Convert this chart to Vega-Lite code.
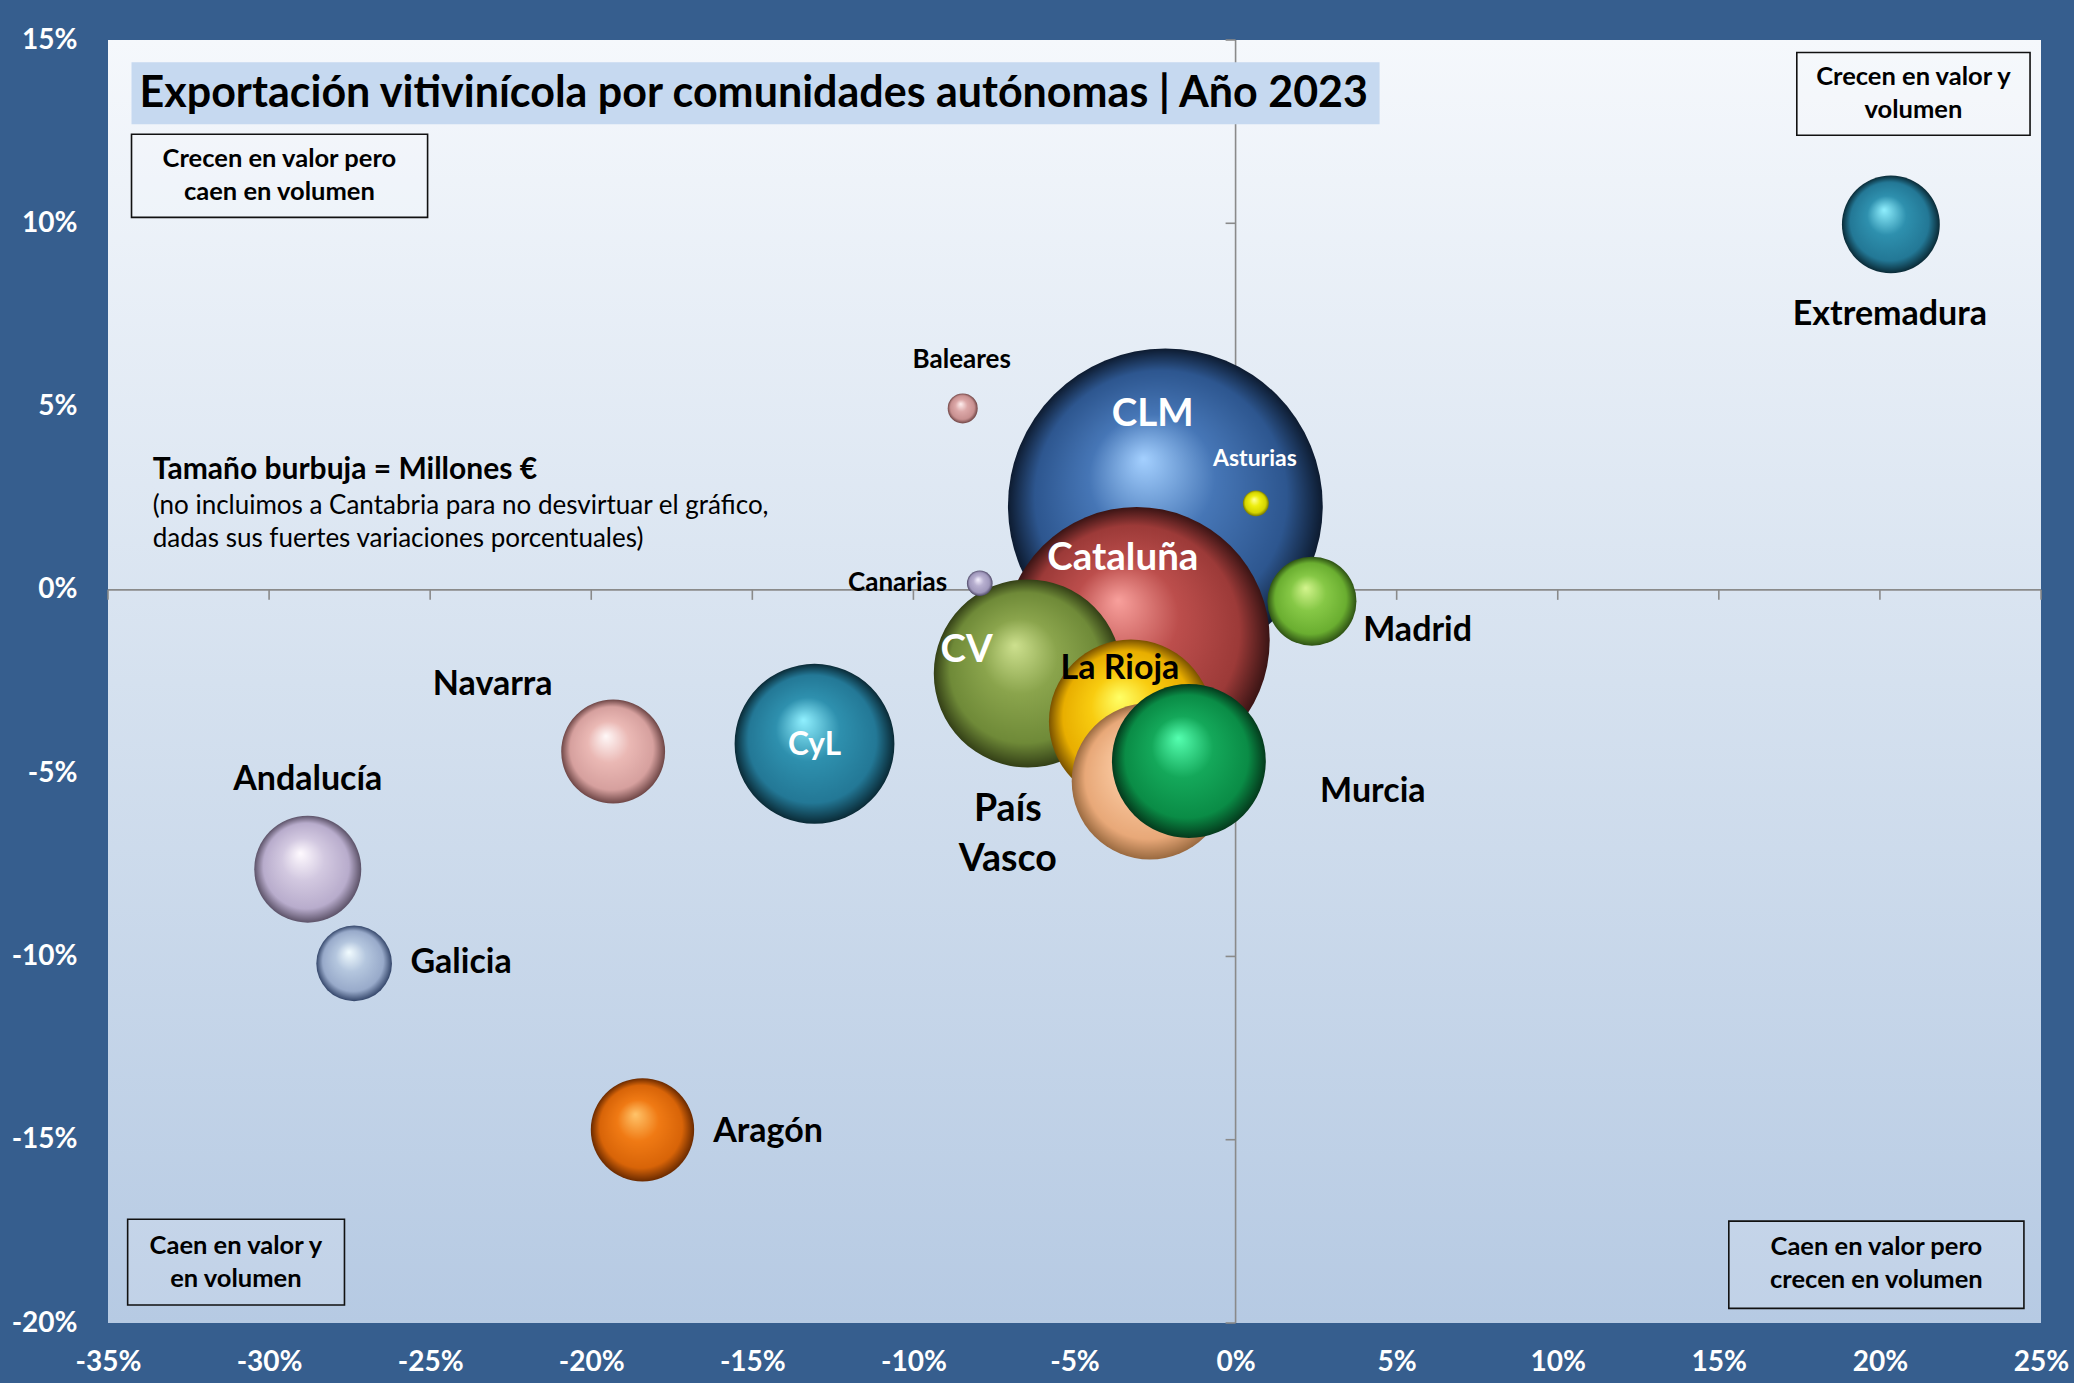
{
  "$schema": "https://vega.github.io/schema/vega-lite/v6.json",
  "width": 1933,
  "height": 1283,
  "autosize": {"type": "none"},
  "padding": {"left": 108, "top": 40, "right": 33, "bottom": 60},
  "background": "#365E8E",
  "config": {
    "view": {"stroke": null},
    "font": "Lato",
    "axis": {"labelColor": "white", "labelFont": "Lato", "labelFontSize": 28, "labelFontWeight": "bold", "domain": false, "ticks": false, "grid": false, "labelOverlap": false, "labelFlush": false, "labelBound": false}
  },
  "datasets": {
    "bubbles": [
      {"region": "Castilla-La Mancha", "vol": -2.18, "valor": 2.29, "millones": 900},
      {"region": "Cataluña", "vol": -3.07, "valor": -1.37, "millones": 643},
      {"region": "Comunidad Valenciana", "vol": -6.45, "valor": -2.28, "millones": 321},
      {"region": "La Rioja", "vol": -3.25, "valor": -3.59, "millones": 244},
      {"region": "Castilla y León", "vol": -13.07, "valor": -4.2, "millones": 232},
      {"region": "País Vasco", "vol": -2.66, "valor": -5.22, "millones": 222},
      {"region": "Murcia", "vol": -1.45, "valor": -4.67, "millones": 215},
      {"region": "Andalucía", "vol": -28.8, "valor": -7.62, "millones": 104},
      {"region": "Navarra", "vol": -19.32, "valor": -4.41, "millones": 98},
      {"region": "Aragón", "vol": -18.41, "valor": -14.73, "millones": 97},
      {"region": "Extremadura", "vol": 20.34, "valor": 9.97, "millones": 87},
      {"region": "Madrid", "vol": 2.37, "valor": -0.31, "millones": 72},
      {"region": "Galicia", "vol": -27.36, "valor": -10.19, "millones": 52},
      {"region": "Baleares", "vol": -8.47, "valor": 4.95, "millones": 8.2},
      {"region": "Asturias", "vol": 0.63, "valor": 2.36, "millones": 6.1},
      {"region": "Canarias", "vol": -7.94, "valor": 0.18, "millones": 6}
    ],
    "labels": [
      {"t": "Extremadura", "x": 20.31, "y": 7.49, "k": "big"},
      {"t": "Madrid", "x": 5.65, "y": -1.13, "k": "big"},
      {"t": "Murcia", "x": 4.26, "y": -5.52, "k": "big"},
      {"t": "La Rioja", "x": -3.59, "y": -2.17, "k": "big"},
      {"t": "Navarra", "x": -23.06, "y": -2.6, "k": "big"},
      {"t": "Andalucía", "x": -28.8, "y": -5.2, "k": "big"},
      {"t": "Galicia", "x": -24.04, "y": -10.19, "k": "big"},
      {"t": "Aragón", "x": -14.51, "y": -14.8, "k": "big"},
      {"t": "País", "x": -7.07, "y": -6.01, "k": "pv"},
      {"t": "Vasco", "x": -7.07, "y": -7.38, "k": "pv"},
      {"t": "CLM", "x": -2.57, "y": 4.81, "k": "white"},
      {"t": "Cataluña", "x": -3.5, "y": 0.88, "k": "white"},
      {"t": "CV", "x": -8.35, "y": -1.65, "k": "white"},
      {"t": "CyL", "x": -13.07, "y": -4.27, "k": "whiteS"},
      {"t": "Baleares", "x": -8.5, "y": 6.26, "k": "small"},
      {"t": "Canarias", "x": -10.49, "y": 0.18, "k": "small"},
      {"t": "Asturias", "x": 0.6, "y": 3.56, "k": "smallWhite"}
    ],
    "quadrants": [
      {"t": "Crecen en valor pero\ncaen en volumen", "x1": -34.27, "x2": -25.08, "y1": 12.43, "y2": 10.16, "cx": -29.68, "cy": 11.75},
      {"t": "Crecen en valor y\nvolumen", "x1": 17.42, "x2": 24.66, "y1": 14.66, "y2": 12.4, "cx": 21.04, "cy": 13.98},
      {"t": "Caen en valor y\nen volumen", "x1": -34.39, "x2": -27.66, "y1": -17.17, "y2": -19.51, "cx": -31.03, "cy": -17.89},
      {"t": "Caen en valor pero\ncrecen en volumen", "x1": 15.31, "x2": 24.47, "y1": -17.22, "y2": -19.6, "cx": 19.89, "cy": -17.94}
    ],
    "notes": [
      {"t": "Tamaño burbuja = Millones €", "x": -33.61, "y": 3.27, "k": "bold"},
      {"t": "(no incluimos a Cantabria para no desvirtuar el gráfico,", "x": -33.61, "y": 2.3, "k": "reg"},
      {"t": "dadas sus fuertes variaciones porcentuales)", "x": -33.61, "y": 1.4, "k": "reg"}
    ],
    "xticks": [{"t": -35}, {"t": -30}, {"t": -25}, {"t": -20}, {"t": -15}, {"t": -10}, {"t": -5}, {"t": 5}, {"t": 10}, {"t": 15}, {"t": 20}, {"t": 25}],
    "yticks": [{"t": -20}, {"t": -15}, {"t": -10}, {"t": -5}, {"t": 5}, {"t": 10}, {"t": 15}]
  },
  "layer": [
    {
      "data": {"values": [{}]},
      "mark": {"type": "rect", "fill": {"gradient": "linear", "x1": 0, "y1": 0, "x2": 0, "y2": 1, "stops": [{"offset": 0, "color": "#F5F8FC"}, {"offset": 0.5, "color": "#D5E1EF"}, {"offset": 1, "color": "#B6CAE3"}]}},
      "encoding": {
        "x": {"datum": -35, "type": "quantitative", "scale": {"domain": [-35, 25], "nice": false, "zero": false}, "axis": {"title": null, "values": [-35, -30, -25, -20, -15, -10, -5, 0, 5, 10, 15, 20, 25], "labelExpr": "datum.value + '%'", "labelPadding": 39, "labelBaseline": "middle"}},
        "x2": {"datum": 25},
        "y": {"datum": 15, "type": "quantitative", "scale": {"domain": [-20, 15], "nice": false, "zero": false}, "axis": {"title": null, "values": [-20, -15, -10, -5, 0, 5, 10, 15], "labelExpr": "datum.value + '%'", "labelPadding": 31, "labelBaseline": "middle"}},
        "y2": {"datum": -20}
      }
    },
    {
      "data": {"values": [{}]},
      "mark": {"type": "rule", "color": "#8A8A8A", "strokeWidth": 1.6},
      "encoding": {"y": {"datum": 0, "type": "quantitative"}}
    },
    {
      "data": {"values": [{}]},
      "mark": {"type": "rule", "color": "#8A8A8A", "strokeWidth": 1.6},
      "encoding": {"x": {"datum": 0, "type": "quantitative"}}
    },
    {
      "data": {"name": "xticks"},
      "mark": {"type": "tick", "orient": "vertical", "size": 10, "thickness": 1.6, "color": "#8A8A8A", "yOffset": 5, "opacity": 1},
      "encoding": {"x": {"field": "t", "type": "quantitative"}, "y": {"datum": 0, "type": "quantitative"}}
    },
    {
      "data": {"name": "yticks"},
      "mark": {"type": "tick", "orient": "horizontal", "size": 10, "thickness": 1.6, "color": "#8A8A8A", "xOffset": -5, "opacity": 1},
      "encoding": {"y": {"field": "t", "type": "quantitative"}, "x": {"datum": 0, "type": "quantitative"}}
    },
    {
      "data": {"values": [{}]},
      "mark": {"type": "rect", "fill": "#C6D9F0"},
      "encoding": {"x": {"datum": -34.27, "type": "quantitative"}, "x2": {"datum": 4.47}, "y": {"datum": 14.39, "type": "quantitative"}, "y2": {"datum": 12.7}}
    },
    {
      "data": {"values": [{"t": "Exportación vitivinícola por comunidades autónomas | Año 2023", "x": -34.02, "y": 13.52}]},
      "mark": {"type": "text", "align": "left", "baseline": "middle", "font": "Lato", "fontWeight": "bold", "fontSize": 43, "color": "#000000"},
      "encoding": {"x": {"field": "x", "type": "quantitative"}, "y": {"field": "y", "type": "quantitative"}, "text": {"field": "t"}}
    },
    {
      "data": {"name": "quadrants"},
      "mark": {"type": "rect", "fill": "#FFFFFF", "fillOpacity": 0.15, "stroke": "#111111", "strokeWidth": 1.6},
      "encoding": {"x": {"field": "x1", "type": "quantitative"}, "x2": {"field": "x2"}, "y": {"field": "y1", "type": "quantitative"}, "y2": {"field": "y2"}}
    },
    {
      "data": {"name": "quadrants"},
      "mark": {"type": "text", "align": "center", "baseline": "middle", "lineBreak": "\n", "lineHeight": 33, "font": "Lato", "fontWeight": "bold", "fontSize": 25.5, "color": "#000000"},
      "encoding": {"x": {"field": "cx", "type": "quantitative"}, "y": {"field": "cy", "type": "quantitative"}, "text": {"field": "t"}}
    },
    {
      "data": {"name": "notes"},
      "transform": [{"filter": "datum.k === 'bold'"}],
      "mark": {"type": "text", "align": "left", "baseline": "middle", "font": "Lato", "fontWeight": "bold", "fontSize": 30, "color": "#000000"},
      "encoding": {"x": {"field": "x", "type": "quantitative"}, "y": {"field": "y", "type": "quantitative"}, "text": {"field": "t"}}
    },
    {
      "data": {"name": "notes"},
      "transform": [{"filter": "datum.k === 'reg'"}],
      "mark": {"type": "text", "align": "left", "baseline": "middle", "font": "Lato", "fontSize": 26, "color": "#000000"},
      "encoding": {"x": {"field": "x", "type": "quantitative"}, "y": {"field": "y", "type": "quantitative"}, "text": {"field": "t"}}
    },
    {
      "data": {"name": "bubbles"},
      "encoding": {
        "x": {"field": "vol", "type": "quantitative"},
        "y": {"field": "valor", "type": "quantitative"},
        "size": {"field": "millones", "type": "quantitative", "scale": {"domain": [0, 900], "range": [0, 99100]}, "legend": null}
      },
      "layer": [
        {"transform": [{"filter": "datum.region === 'Castilla-La Mancha'"}], "mark": {"type": "circle", "opacity": 1, "fill": {"gradient": "radial", "x1": 0.43, "y1": 0.35, "r1": 0, "x2": 0.5, "y2": 0.5, "r2": 0.5, "stops": [{"offset": 0, "color": "#A4D0FF"}, {"offset": 0.4, "color": "#4676B6"}, {"offset": 0.8, "color": "#2D568F"}, {"offset": 1, "color": "#0D1B30"}]}}},
        {"transform": [{"filter": "datum.region === 'Cataluña'"}], "mark": {"type": "circle", "opacity": 1, "fill": {"gradient": "radial", "x1": 0.43, "y1": 0.35, "r1": 0, "x2": 0.5, "y2": 0.5, "r2": 0.5, "stops": [{"offset": 0, "color": "#F8A09C"}, {"offset": 0.4, "color": "#BC4E4C"}, {"offset": 0.8, "color": "#9C3A38"}, {"offset": 1, "color": "#3A1414"}]}}},
        {"transform": [{"filter": "datum.region === 'Comunidad Valenciana'"}], "mark": {"type": "circle", "opacity": 1, "fill": {"gradient": "radial", "x1": 0.43, "y1": 0.35, "r1": 0, "x2": 0.5, "y2": 0.5, "r2": 0.5, "stops": [{"offset": 0, "color": "#CDE08E"}, {"offset": 0.4, "color": "#8AA44C"}, {"offset": 0.8, "color": "#6F8A38"}, {"offset": 1, "color": "#333F16"}]}}},
        {"transform": [{"filter": "datum.region === 'La Rioja'"}], "mark": {"type": "circle", "opacity": 1, "fill": {"gradient": "radial", "x1": 0.43, "y1": 0.35, "r1": 0, "x2": 0.5, "y2": 0.5, "r2": 0.5, "stops": [{"offset": 0, "color": "#FFFF66"}, {"offset": 0.4, "color": "#F8CC10"}, {"offset": 0.8, "color": "#E8AE00"}, {"offset": 1, "color": "#7A5200"}]}}},
        {"transform": [{"filter": "datum.region === 'Castilla y León'"}], "mark": {"type": "circle", "opacity": 1, "fill": {"gradient": "radial", "x1": 0.43, "y1": 0.35, "r1": 0, "x2": 0.5, "y2": 0.5, "r2": 0.5, "stops": [{"offset": 0, "color": "#90F0FF"}, {"offset": 0.4, "color": "#2E90AE"}, {"offset": 0.8, "color": "#237896"}, {"offset": 1, "color": "#0A2A36"}]}}},
        {"transform": [{"filter": "datum.region === 'País Vasco'"}], "mark": {"type": "circle", "opacity": 1, "fill": {"gradient": "radial", "x1": 0.43, "y1": 0.35, "r1": 0, "x2": 0.5, "y2": 0.5, "r2": 0.5, "stops": [{"offset": 0, "color": "#FFE8CC"}, {"offset": 0.4, "color": "#F6C298"}, {"offset": 0.8, "color": "#E8A878"}, {"offset": 1, "color": "#9A6A40"}]}}},
        {"transform": [{"filter": "datum.region === 'Murcia'"}], "mark": {"type": "circle", "opacity": 1, "fill": {"gradient": "radial", "x1": 0.43, "y1": 0.35, "r1": 0, "x2": 0.5, "y2": 0.5, "r2": 0.5, "stops": [{"offset": 0, "color": "#55FFB0"}, {"offset": 0.4, "color": "#14A85A"}, {"offset": 0.8, "color": "#0A8C46"}, {"offset": 1, "color": "#043A1C"}]}}},
        {"transform": [{"filter": "datum.region === 'Andalucía'"}], "mark": {"type": "circle", "opacity": 1, "fill": {"gradient": "radial", "x1": 0.43, "y1": 0.35, "r1": 0, "x2": 0.5, "y2": 0.5, "r2": 0.5, "stops": [{"offset": 0, "color": "#FFFAFF"}, {"offset": 0.4, "color": "#D2C8E0"}, {"offset": 0.8, "color": "#B8ACCC"}, {"offset": 1, "color": "#5C5268"}]}}},
        {"transform": [{"filter": "datum.region === 'Navarra'"}], "mark": {"type": "circle", "opacity": 1, "fill": {"gradient": "radial", "x1": 0.43, "y1": 0.35, "r1": 0, "x2": 0.5, "y2": 0.5, "r2": 0.5, "stops": [{"offset": 0, "color": "#FFF8F8"}, {"offset": 0.4, "color": "#EAB8B4"}, {"offset": 0.8, "color": "#D6A09E"}, {"offset": 1, "color": "#6E4646"}]}}},
        {"transform": [{"filter": "datum.region === 'Aragón'"}], "mark": {"type": "circle", "opacity": 1, "fill": {"gradient": "radial", "x1": 0.43, "y1": 0.35, "r1": 0, "x2": 0.5, "y2": 0.5, "r2": 0.5, "stops": [{"offset": 0, "color": "#FFC46A"}, {"offset": 0.4, "color": "#F07A14"}, {"offset": 0.8, "color": "#D86408"}, {"offset": 1, "color": "#6A2A00"}]}}},
        {"transform": [{"filter": "datum.region === 'Extremadura'"}], "mark": {"type": "circle", "opacity": 1, "fill": {"gradient": "radial", "x1": 0.43, "y1": 0.35, "r1": 0, "x2": 0.5, "y2": 0.5, "r2": 0.5, "stops": [{"offset": 0, "color": "#90F0FF"}, {"offset": 0.4, "color": "#2E90AE"}, {"offset": 0.8, "color": "#237896"}, {"offset": 1, "color": "#0A2A36"}]}}},
        {"transform": [{"filter": "datum.region === 'Madrid'"}], "mark": {"type": "circle", "opacity": 1, "fill": {"gradient": "radial", "x1": 0.43, "y1": 0.35, "r1": 0, "x2": 0.5, "y2": 0.5, "r2": 0.5, "stops": [{"offset": 0, "color": "#D4F58E"}, {"offset": 0.4, "color": "#86C846"}, {"offset": 0.8, "color": "#6AAE30"}, {"offset": 1, "color": "#2E5214"}]}}},
        {"transform": [{"filter": "datum.region === 'Galicia'"}], "mark": {"type": "circle", "opacity": 1, "fill": {"gradient": "radial", "x1": 0.43, "y1": 0.35, "r1": 0, "x2": 0.5, "y2": 0.5, "r2": 0.5, "stops": [{"offset": 0, "color": "#F2FCFF"}, {"offset": 0.4, "color": "#B4C6DE"}, {"offset": 0.8, "color": "#98AACA"}, {"offset": 1, "color": "#34466A"}]}}},
        {"transform": [{"filter": "datum.region === 'Baleares'"}], "mark": {"type": "circle", "opacity": 1, "fill": {"gradient": "radial", "x1": 0.43, "y1": 0.35, "r1": 0, "x2": 0.5, "y2": 0.5, "r2": 0.5, "stops": [{"offset": 0, "color": "#FFF0F0"}, {"offset": 0.4, "color": "#DCA8A8"}, {"offset": 0.8, "color": "#C89090"}, {"offset": 1, "color": "#6E4444"}]}}},
        {"transform": [{"filter": "datum.region === 'Asturias'"}], "mark": {"type": "circle", "opacity": 1, "fill": {"gradient": "radial", "x1": 0.43, "y1": 0.35, "r1": 0, "x2": 0.5, "y2": 0.5, "r2": 0.5, "stops": [{"offset": 0, "color": "#FFFFA0"}, {"offset": 0.4, "color": "#EEEE10"}, {"offset": 0.8, "color": "#D4D400"}, {"offset": 1, "color": "#787800"}]}}},
        {"transform": [{"filter": "datum.region === 'Canarias'"}], "mark": {"type": "circle", "opacity": 1, "fill": {"gradient": "radial", "x1": 0.43, "y1": 0.35, "r1": 0, "x2": 0.5, "y2": 0.5, "r2": 0.5, "stops": [{"offset": 0, "color": "#F6F2FF"}, {"offset": 0.4, "color": "#B8B0D0"}, {"offset": 0.8, "color": "#A098BC"}, {"offset": 1, "color": "#4E4866"}]}}}
      ]
    },
    {
      "data": {"name": "labels"},
      "encoding": {"x": {"field": "x", "type": "quantitative"}, "y": {"field": "y", "type": "quantitative"}, "text": {"field": "t"}},
      "layer": [
        {"transform": [{"filter": "datum.k === 'big'"}], "mark": {"type": "text", "align": "center", "baseline": "middle", "font": "Lato", "fontWeight": "bold", "fontSize": 34, "color": "#000000"}},
        {"transform": [{"filter": "datum.k === 'pv'"}], "mark": {"type": "text", "align": "center", "baseline": "middle", "font": "Lato", "fontWeight": "bold", "fontSize": 37.5, "color": "#000000"}},
        {"transform": [{"filter": "datum.k === 'white'"}], "mark": {"type": "text", "align": "center", "baseline": "middle", "font": "Lato", "fontWeight": "bold", "fontSize": 38.5, "color": "#FFFFFF"}},
        {"transform": [{"filter": "datum.k === 'whiteS'"}], "mark": {"type": "text", "align": "center", "baseline": "middle", "font": "Lato", "fontWeight": "bold", "fontSize": 31.5, "color": "#FFFFFF"}},
        {"transform": [{"filter": "datum.k === 'small'"}], "mark": {"type": "text", "align": "center", "baseline": "middle", "font": "Lato", "fontWeight": "bold", "fontSize": 26, "color": "#000000"}},
        {"transform": [{"filter": "datum.k === 'smallWhite'"}], "mark": {"type": "text", "align": "center", "baseline": "middle", "font": "Lato", "fontWeight": "bold", "fontSize": 23, "color": "#FFFFFF"}}
      ]
    }
  ]
}
